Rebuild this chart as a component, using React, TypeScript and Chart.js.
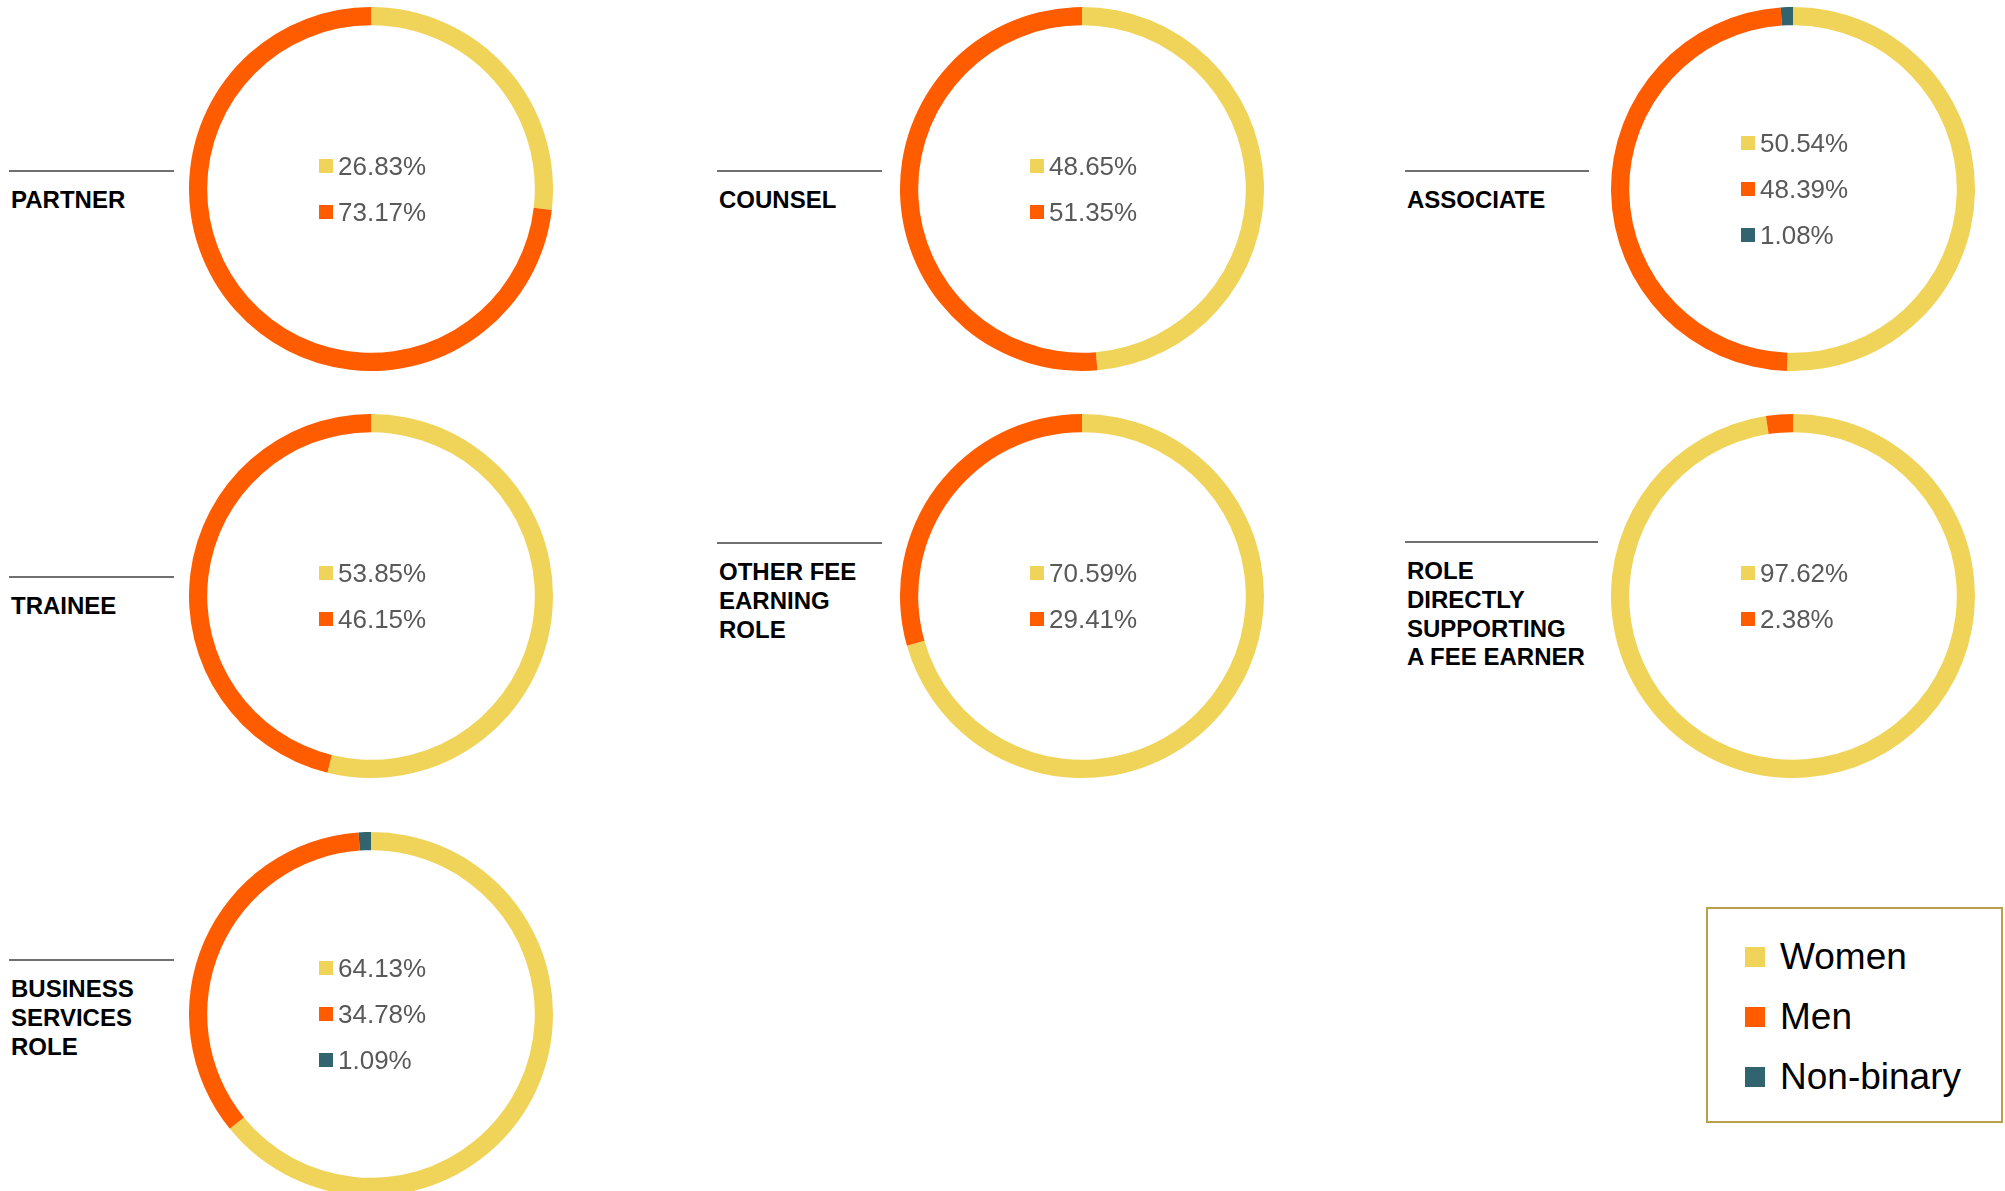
import React, { useEffect, useRef } from "react";
import { Chart, registerables } from "chart.js";

Chart.register(...registerables);

// ---------- DATA ----------
const roles = [
  "PARTNER",
  "COUNSEL",
  "ASSOCIATE",
  "TRAINEE",
  "OTHER FEE\nEARNING\nROLE",
  "ROLE\nDIRECTLY\nSUPPORTING\nA FEE EARNER",
  "BUSINESS\nSERVICES\nROLE",
];
const seriesNames = ["Women", "Men", "Non-binary"];
const women = [26.83, 48.65, 50.54, 53.85, 70.59, 97.62, 64.13];
const men = [73.17, 51.35, 48.39, 46.15, 29.41, 2.38, 34.78];
const nonBinary = [0, 0, 1.08, 0, 0, 0, 1.09];

// ---------- STYLE / LAYOUT ----------
const COLORS = ["#F0D45A", "#FF5C00", "#32646F"];
const FONT = '"Liberation Sans", Arial, Helvetica, sans-serif';
const R = 182;
const COL_X = [371, 1082, 1793];
const ROW_Y = [189, 596, 1014];
const CELL = [
  [0, 0],
  [0, 1],
  [0, 2],
  [1, 0],
  [1, 1],
  [1, 2],
  [2, 0],
];
const LABEL_LAYOUT = [
  { x: 9, lineY: 171, lineW: 165 },
  { x: 717, lineY: 171, lineW: 165 },
  { x: 1405, lineY: 171, lineW: 184 },
  { x: 9, lineY: 577, lineW: 165 },
  { x: 717, lineY: 543, lineW: 165 },
  { x: 1405, lineY: 542, lineW: 193 },
  { x: 9, lineY: 960, lineW: 165 },
];

function Donut({ values, cx, cy }: { values: number[]; cx: number; cy: number }) {
  const ref = useRef<HTMLCanvasElement | null>(null);
  useEffect(() => {
    if (!ref.current) return;
    const chart = new Chart(ref.current, {
      type: "doughnut",
      data: {
        labels: seriesNames,
        datasets: [
          {
            data: values,
            backgroundColor: COLORS,
            borderWidth: 0,
            offset: 0,
            hoverOffset: 0,
          },
        ],
      },
      options: {
        responsive: false,
        animation: false,
        cutout: "90%",
        rotation: 0,
        layout: { padding: 0 },
        plugins: { legend: { display: false }, tooltip: { enabled: false } },
        events: [],
      },
    });
    return () => chart.destroy();
  }, [values]);
  return (
    <canvas
      ref={ref}
      width={2 * R}
      height={2 * R}
      style={{ position: "absolute", left: cx - R, top: cy - R, width: 2 * R, height: 2 * R }}
    />
  );
}

function PercentLabels({ values, cx, cy }: { values: number[]; cx: number; cy: number }) {
  const rows = values
    .map((v, i) => ({ v, i }))
    .filter((r) => r.v > 0);
  const n = rows.length;
  return (
    <>
      {rows.map((r, k) => {
        const y = cy + (k - (n - 1) / 2) * 46;
        return (
          <div
            key={k}
            style={{
              position: "absolute",
              left: cx - 52,
              top: y - 23,
              height: 46,
              display: "flex",
              alignItems: "center",
              whiteSpace: "nowrap",
            }}
          >
            <div style={{ width: 14, height: 14, background: COLORS[r.i], marginRight: 5 }} />
            <span style={{ fontFamily: FONT, fontSize: 26, color: "#595959", lineHeight: "46px" }}>
              {r.v.toFixed(2)}%
            </span>
          </div>
        );
      })}
    </>
  );
}

function RoleLabel({ text, idx }: { text: string; idx: number }) {
  const L = LABEL_LAYOUT[idx];
  return (
    <>
      <div
        style={{
          position: "absolute",
          left: L.x,
          top: L.lineY - 1,
          width: L.lineW,
          height: 2,
          background: "#707070",
        }}
      />
      <div
        style={{
          position: "absolute",
          left: L.x + 2,
          top: L.lineY + 15,
          fontFamily: FONT,
          fontWeight: "bold",
          fontSize: 24,
          lineHeight: "28.8px",
          color: "#000",
          whiteSpace: "pre",
        }}
      >
        {text}
      </div>
    </>
  );
}

function Legend() {
  return (
    <div
      style={{
        position: "absolute",
        left: 1706,
        top: 907,
        width: 297,
        height: 216,
        boxSizing: "border-box",
        border: "2px solid #B9A14B",
        background: "#fff",
      }}
    >
      {seriesNames.map((name, i) => (
        <div
          key={name}
          style={{
            position: "absolute",
            left: 37,
            top: 48 + i * 60 - 20,
            height: 40,
            display: "flex",
            alignItems: "center",
            whiteSpace: "nowrap",
          }}
        >
          <div style={{ width: 20, height: 20, background: COLORS[i], marginRight: 15 }} />
          <span style={{ fontFamily: FONT, fontSize: 37, color: "#000", lineHeight: "40px" }}>{name}</span>
        </div>
      ))}
    </div>
  );
}

export default function App() {
  return (
    <div
      style={{
        position: "fixed",
        left: 0,
        top: 0,
        width: 2005,
        height: 1191,
        overflow: "hidden",
        background: "#fff",
      }}
    >
      {roles.map((role, i) => {
        const [r, c] = CELL[i];
        const cx = COL_X[c];
        const cy = ROW_Y[r];
        const vals = [women[i], men[i], nonBinary[i]];
        return (
          <React.Fragment key={role}>
            <RoleLabel text={role} idx={i} />
            <Donut values={vals} cx={cx} cy={cy} />
            <PercentLabels values={vals} cx={cx} cy={cy} />
          </React.Fragment>
        );
      })}
      <Legend />
    </div>
  );
}
